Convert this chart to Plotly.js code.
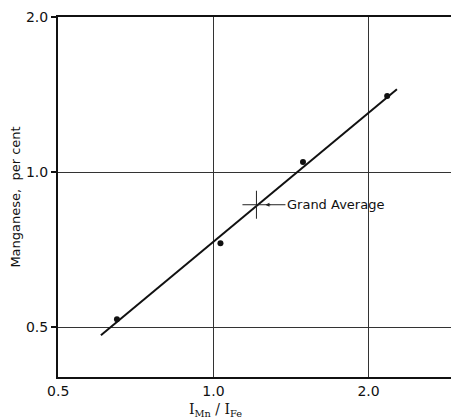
<!DOCTYPE html>
<html>
<head>
<meta charset="utf-8">
<script src="https://cdn.plot.ly/plotly-3.0.1.min.js"></script>
<style>html,body{margin:0;padding:0;background:#fff;} #chart{width:451px;height:418px;}</style>
</head>
<body>
<div id="chart"></div>
<script>
// Data (log-log plot)
const ratioPoints = [0.650, 1.032, 1.492, 2.173];   // I_Mn / I_Fe
const manganesePoints = [0.518, 0.727, 1.046, 1.405]; // per cent
const fitLineX = [0.605, 2.27];
const fitLineY = [0.482, 1.448];
const grandAverageX = [1.212];
const grandAverageY = [0.864];
const tickValues = [0.5, 1.0, 2.0];
const tickLabels = ["0.5", "1.0", "2.0"];

const font = "DejaVu Sans, sans-serif";

const traces = [
  {x: fitLineX, y: fitLineY, mode: "lines", line: {color: "#111", width: 2}, hoverinfo: "skip"},
  {x: ratioPoints, y: manganesePoints, mode: "markers", marker: {color: "#111", size: 6}},
  {x: grandAverageX, y: grandAverageY, mode: "markers",
   marker: {symbol: "cross-thin", size: 20, line: {color: "#222", width: 1}}}
];

const layout = {
  width: 451, height: 418,
  margin: {l: 58, r: 0, t: 17, b: 41},
  paper_bgcolor: "#fff", plot_bgcolor: "#fff",
  showlegend: false,
  font: {family: font, color: "#111", size: 14},
  xaxis: {
    type: "log", range: [Math.log10(0.4995), Math.log10(2.89)],
    tickvals: tickValues, ticktext: tickLabels,
    showgrid: true, gridcolor: "#333", gridwidth: 1,
    showline: true, linecolor: "#111", linewidth: 2, mirror: true,
    ticks: "", zeroline: false,
    tickfont: {family: font, size: 14, color: "#111"}
  },
  yaxis: {
    type: "log", range: [Math.log10(0.40), Math.log10(2.0)],
    tickvals: tickValues, ticktext: tickLabels,
    showgrid: true, gridcolor: "#333", gridwidth: 1,
    showline: true, linecolor: "#111", linewidth: 2,
    ticks: "outside", ticklen: 5, tickcolor: "#111", tickwidth: 1.5,
    zeroline: false,
    tickfont: {family: font, size: 14, color: "#111"},
    title: {text: "Manganese,  per cent", font: {family: font, size: 13, color: "#111"}, standoff: 2}
  },
  annotations: [
    {x: Math.log10(grandAverageX[0]), y: Math.log10(grandAverageY[0]), xref: "x", yref: "y",
     text: "Grand Average", showarrow: true, ax: 29, ay: 0, xanchor: "left",
     arrowhead: 2, arrowsize: 0.8, arrowwidth: 1, arrowcolor: "#222", standoff: 9,
     font: {family: font, size: 13, color: "#111"}},
    {x: 0, y: 0, xref: "paper", yref: "paper", showarrow: false, yanchor: "middle",
     text: "I<sub>Mn</sub> / I<sub>Fe</sub>", font: {family: "DejaVu Serif, serif", size: 14, color: "#111"}}
  ]
};
// place the x-axis title annotation in pixel-equivalent paper coords
const plotW = 451 - 58, plotH = 418 - 17 - 41;
layout.annotations[1].x = (215 - 58) / plotW;
layout.annotations[1].y = -(410 - 377) / plotH;

Plotly.newPlot("chart", traces, layout, {displayModeBar: false, staticPlot: true});
</script>
</body>
</html>
